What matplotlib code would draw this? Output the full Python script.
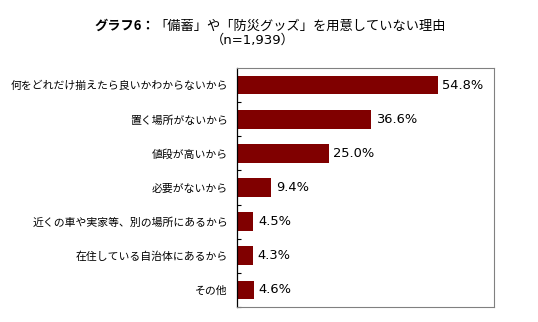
import matplotlib.pyplot as plt
import numpy as np

plt.rcParams['font.family'] = ['Noto Sans CJK JP', 'DejaVu Sans']

# 「備蓄」や「防災グッズ」を用意していない理由 (n=1,939)
reasons = [
    "何をどれだけ揃えたら良いかわからないから",
    "置く場所がないから",
    "値段が高いから",
    "必要がないから",
    "近くの車や実家等、別の場所にあるから",
    "在住している自治体にあるから",
    "その他",
]
percent = [54.8, 36.6, 25.0, 9.4, 4.5, 4.3, 4.6]

bar_color = "#800000"

fig = plt.figure(figsize=(5.38, 3.22), dpi=100)
ax = fig.add_axes([237 / 538, 1 - 307 / 322, (494 - 237) / 538, (307 - 68) / 322])

y = np.arange(len(reasons))
ax.barh(y, percent, height=0.55, color=bar_color)
ax.set_xlim(0, 70.2)
ax.set_ylim(len(reasons) - 0.5, -0.5)

for yi, v in zip(y, percent):
    ax.text(v + 1.3, yi, f"{v:.1f}%", va="center", ha="left", fontsize=9.4,
            family=["DejaVu Sans"])

ax.set_yticks(y)
ax.set_yticklabels(reasons, fontsize=7.8)
ax.set_yticks(np.arange(1, len(reasons) + 1) - 0.5, minor=True)
ax.tick_params(axis="y", which="major", length=0, pad=6.5)
ax.tick_params(axis="y", which="minor", direction="in", length=3, width=0.8)
ax.set_xticks([])

for side in ("top", "right", "bottom"):
    ax.spines[side].set_color("#808080")
    ax.spines[side].set_linewidth(0.8)
ax.spines["left"].set_color("black")
ax.spines["left"].set_linewidth(0.9)

# two-part title: bold label followed by regular text
fig.canvas.draw()
renderer = fig.canvas.get_renderer()
head = fig.text(94 / 538, 1 - 26 / 322, "グラフ6：", fontsize=9.5, fontweight="bold",
                va="center", ha="left")
bb = head.get_window_extent(renderer)
fig.text(bb.x1 / fig.bbox.width, 1 - 26 / 322, "「備蓄」や「防災グッズ」を用意していない理由",
         fontsize=9.5, va="center", ha="left")
fig.text(253 / 538, 1 - 40 / 322, "（n=1,939）", fontsize=9.5, va="center", ha="center",
         family=["DejaVu Sans", "Noto Sans CJK JP"])

fig.savefig("out.png", dpi=100)
